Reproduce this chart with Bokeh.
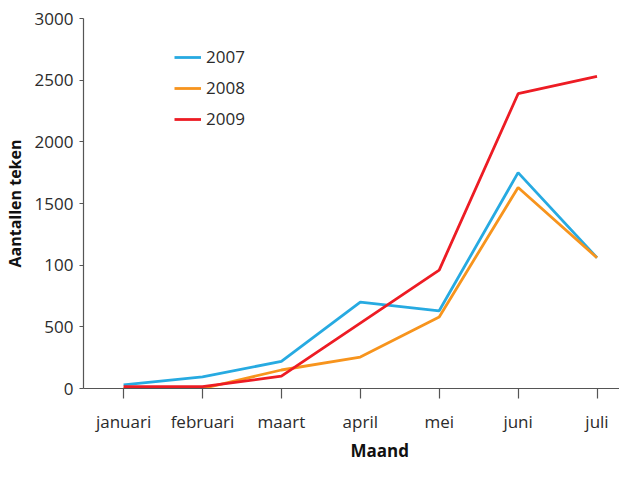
from bokeh.plotting import figure
from bokeh.models import Range1d, FixedTicker, Legend, LegendItem, Title
from bokeh.embed import file_html
from bokeh.resources import INLINE

months = ["januari", "februari", "maart", "april", "mei", "juni", "juli"]
y_ticks = [0, 500, 1000, 1500, 2000, 2500, 3000]
y_tick_labels = ["0", "500", "100", "1500", "2000", "2500", "3000"]

series_names = ["2007", "2008", "2009"]
v2007 = [30, 95, 220, 700, 630, 1750, 1060]
v2008 = [0, 0, 150, 255, 580, 1630, 1060]
v2009 = [15, 15, 100, 530, 960, 2390, 2530]
colors = ["#27AAE1", "#F7941D", "#ED1C24"]

FONT = "Open Sans"
TXT = "#2b2b2b"

xs = list(range(len(months)))

p = figure(width=619, height=463, output_backend="svg", toolbar_location=None,
           x_range=Range1d(-0.508, 6.285), y_range=Range1d(0, 3000),
           min_border_left=71, min_border_right=0, min_border_top=18, min_border_bottom=0)
p.outline_line_color = None
p.grid.visible = False
p.background_fill_color = "white"
p.border_fill_color = "white"

items = []
for name, vals, col in zip(series_names, [v2007, v2008, v2009], colors):
    r = p.line(xs, vals, line_color=col, line_width=2.8)
    items.append(LegendItem(label=name, renderers=[r]))

# axes
p.xaxis.ticker = FixedTicker(ticks=xs)
p.xaxis.major_label_overrides = {i: m for i, m in enumerate(months)}
p.yaxis.ticker = FixedTicker(ticks=y_ticks)
p.yaxis.major_label_overrides = {t: l for t, l in zip(y_ticks, y_tick_labels)}

for ax in (p.xaxis[0], p.yaxis[0]):
    ax.axis_line_color = "#555555"
    ax.axis_line_width = 1.2
    ax.major_tick_line_color = "#555555"
    ax.major_tick_line_width = 1.2
    ax.minor_tick_line_color = None
    ax.major_tick_in = 0
    ax.major_label_text_font = FONT
    ax.major_label_text_font_size = "17px"
    ax.major_label_text_color = TXT
    ax.axis_label_text_font = FONT
    ax.axis_label_text_font_style = "bold"
    ax.axis_label_text_color = "#111111"

p.xaxis.major_tick_out = 10
p.xaxis.major_label_standoff = 11
p.yaxis.major_tick_out = 4
p.yaxis.major_label_standoff = 6
p.yaxis.axis_label = "Aantallen teken"
p.yaxis.axis_label_text_font_size = "16px"
p.yaxis.axis_label_standoff = 6

# x-axis title below the tick labels, shifted right as in the original
xtitle = Title(text="Maand", align="left", offset=267, standoff=3,
               text_font=FONT, text_font_size="17px", text_font_style="bold",
               text_color="#111111")
p.add_layout(xtitle, "below")

legend = Legend(items=items, location=(91, 258))
legend.background_fill_alpha = 0
legend.border_line_color = None
legend.padding = 0
legend.margin = 0
legend.spacing = 8
legend.glyph_width = 27
legend.glyph_height = 20
legend.label_height = 20
legend.label_standoff = 5
legend.label_text_font = FONT
legend.label_text_font_size = "17px"
legend.label_text_color = TXT
p.add_layout(legend, "center")

open("out.html", "w").write(file_html(p, INLINE))
